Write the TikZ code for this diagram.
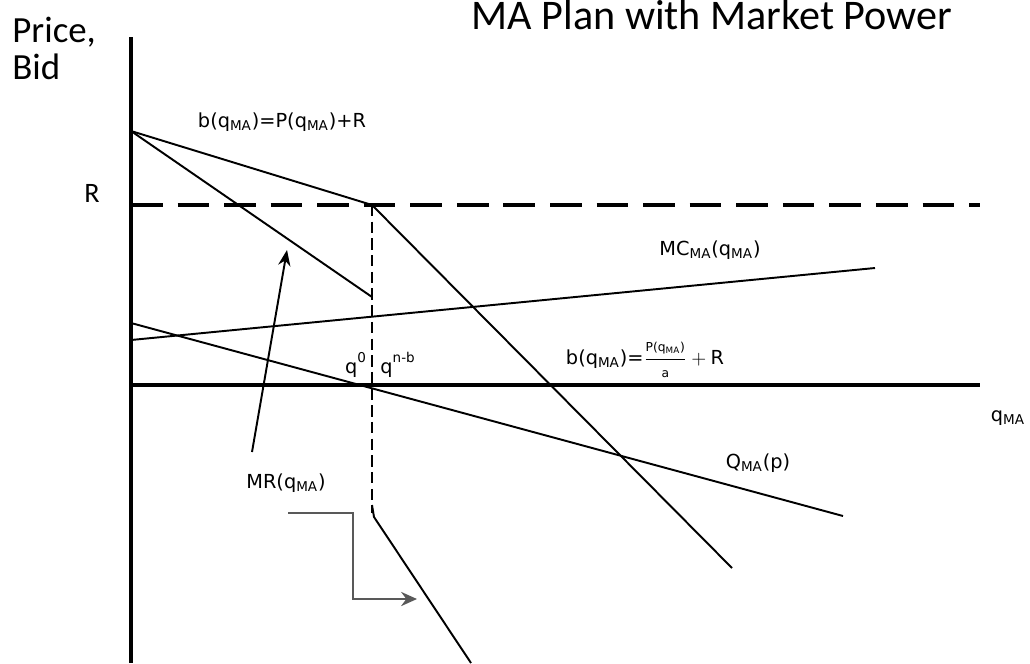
\documentclass[tikz,border=0pt]{standalone}
\usepackage{amsmath}
\usepackage{fontspec}
\setmainfont{DejaVu Sans}
\newfontfamily\headfont{Carlito}
\usetikzlibrary{arrows.meta}
\newcommand{\qMA}{q\textsubscript{MA}}

\begin{document}
\begin{tikzpicture}[x=0.02cm, y=-0.02cm,
    every node/.style={font=\fontsize{11}{13}\selectfont, inner sep=0pt},
    axisline/.style={line width=2.2pt},
    curve/.style={line width=1.1pt},
    headtext/.style={font=\headfont\fontsize{21}{25}\selectfont, anchor=base west}]
    \useasboundingbox (0,0) rectangle (1030,663);

    % Title and axis captions
    \node[headtext, font=\headfont\fontsize{24}{28}\selectfont, anchor=base] (title) at (712,29) {MA Plan with Market Power};
    \node[headtext] (price) at (12,42) {Price,};
    \node[headtext] (bid) at (12,79) {Bid};
    \node[font=\headfont\fontsize{16}{18}\selectfont] (rlab) at (92,193) {R};
    \node (qlab) at (1008,418) {\qMA};

    % Axes
    \coordinate (ytop) at (131,37);
    \coordinate (ybot) at (131,663);
    \coordinate (orig) at (131,385);
    \coordinate (xend) at (980,385);
    \draw[axisline] (ytop) -- (ybot);
    \draw[axisline] (orig) -- (xend);

    % Reservation level R
    \coordinate (rleft) at (131,205);
    \coordinate (rright) at (980,205);
    \draw[axisline, dash pattern=on 18pt off 8.5pt] (rleft) -- (rright);

    % Bid curve and MR
    \coordinate (bstart) at (131,131);
    \coordinate (kink) at (372,205);
    \coordinate (bend) at (732,568);
    \coordinate (mrend) at (372,297);
    \coordinate (dashend) at (372,513);
    \coordinate (lowtick) at (372,505);
    \coordinate (lowstart) at (374,517);
    \coordinate (lowend) at (471,663);
    \draw[curve] (bstart) -- (kink) -- (bend);
    \draw[curve] (bstart) -- (mrend);
    \draw[line width=1.2pt, dash pattern=on 6.5pt off 3pt] (kink) -- (dashend);
    \draw[curve] (lowtick) -- (lowstart) -- (lowend);

    % MC and demand
    \coordinate (mcstart) at (131,340);
    \coordinate (mcend) at (875,268);
    \coordinate (qstart) at (131,323);
    \coordinate (qend) at (843,516);
    \draw[curve] (mcstart) -- (mcend);
    \draw[curve] (qstart) -- (qend);

    % Labels
    \node (blab) at (282,122) {b(\qMA)=P(\qMA)+R};
    \node (mclab) at (710,250) {MC\textsubscript{MA}(\qMA)};
    \node (fraclab) at (645,360) {b(\qMA)=$\dfrac{\text{\scriptsize P(\qMA)}}{\text{\scriptsize a}}+\mathrm{R}$};
    \node (q0lab) at (356,365) {q\textsuperscript{0}};
    \node (qnblab) at (398,365) {q\textsuperscript{n-b}};
    \node (Qlab) at (758,463) {Q\textsubscript{MA}(p)};
    \node (mrlab) at (286,483) {MR(\qMA)};

    % Arrows
    \coordinate (mrtail) at (252,452);
    \coordinate (mrhead) at (287,250);
    \draw[curve, -{Stealth[length=9pt, width=7pt]}] (mrtail) -- (mrhead);
    \coordinate (elbowa) at (288,513);
    \coordinate (elbowb) at (353,513);
    \coordinate (elbowc) at (353,599);
    \coordinate (elbowd) at (417,599);
    \draw[line width=1.6pt, black!65, -{Stealth[length=9pt, width=8pt]}] (elbowa) -- (elbowb) -- (elbowc) -- (elbowd);
\end{tikzpicture}
\end{document}
